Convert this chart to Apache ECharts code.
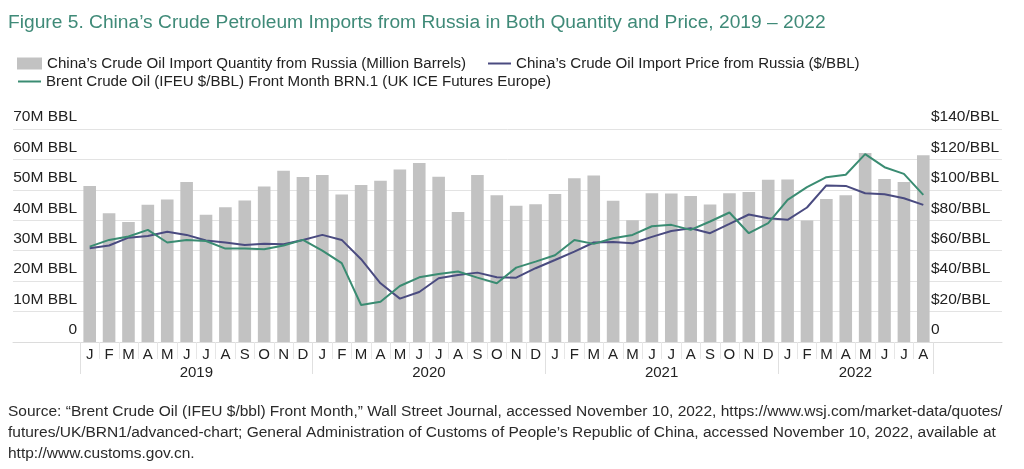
<!DOCTYPE html>
<html>
<head>
<meta charset="utf-8">
<script src="https://cdn.jsdelivr.net/npm/echarts@6/dist/echarts.min.js"></script>
<style>
  html, body { margin: 0; padding: 0; background: #fff; }
  #chart { width: 1024px; height: 469px; }
</style>
</head>
<body>
<div id="chart"></div>
<script>
// months Jan 2019 - Aug 2022
var months = ['J','F','M','A','M','J','J','A','S','O','N','D',
              'J','F','M','A','M','J','J','A','S','O','N','D',
              'J','F','M','A','M','J','J','A','S','O','N','D',
              'J','F','M','A','M','J','J','A'];
var yearLabels = ['2019', '2020', '2021', '2022'];
var yearStarts = [0, 12, 24, 36, 44];   // month index where each year begins (plus end)

// million barrels
var importQuantity = [51.3, 42.3, 39.4, 45.1, 46.8, 52.6, 41.8, 44.3, 46.5, 51.1, 56.3, 54.2,
                      54.9, 48.5, 51.6, 53.0, 56.7, 58.8, 54.3, 42.7, 54.9, 48.2, 44.8, 45.3,
                      48.6, 53.8, 54.7, 46.4, 40.0, 48.9, 48.8, 48.0, 45.2, 48.9, 49.3, 53.3,
                      53.4, 39.9, 47.0, 48.2, 62.1, 53.6, 52.6, 61.4];
// $/BBL
var importPrice = [61.6, 63.4, 68.6, 69.7, 72.4, 70.4, 66.7, 65.4, 63.8, 64.5, 64.2, 67.1,
                   70.4, 67.1, 54.4, 38.6, 28.5, 32.9, 41.9, 44.1, 45.6, 42.5, 42.3, 48.5,
                   53.9, 59.4, 65.4, 65.8, 64.9, 69.1, 73.0, 74.8, 71.5, 77.6, 83.8, 81.4,
                   80.3, 88.4, 102.9, 102.6, 97.8, 97.1, 94.5, 90.1];
var brentPrice = [62.7, 67.1, 69.3, 73.7, 65.4, 67.1, 66.4, 61.4, 61.4, 61.0, 63.4, 67.1,
                  60.1, 51.8, 24.3, 26.5, 36.8, 42.5, 44.7, 46.3, 42.3, 38.6, 48.9, 52.8,
                  57.0, 67.1, 64.5, 68.2, 70.4, 76.1, 77.0, 73.7, 79.2, 85.1, 71.5, 78.1,
                  93.4, 101.8, 108.3, 109.9, 123.5, 114.9, 110.5, 96.7];

var nameQty = 'China\u2019s Crude Oil Import Quantity from Russia (Million Barrels)';
var namePrice = 'China\u2019s Crude Oil Import Price from Russia ($/BBL)';
var nameBrent = 'Brent Crude Oil (IFEU $/BBL) Front Month BRN.1 (UK ICE Futures Europe)';

var sourceText = 'Source: \u201cBrent Crude Oil (IFEU $/bbl) Front Month,\u201d Wall Street Journal, accessed November 10, 2022, https://www.wsj.com/market-data/quotes/\n' +
  'futures/UK/BRN1/advanced-chart; General Administration of Customs of People\u2019s Republic of China, accessed November 10, 2022, available at\n' +
  'http://www.customs.gov.cn.';

// year axis sits on month boundaries: label in middle of each year
var yearAxis = [];
for (var i = 0; i <= months.length; i++) yearAxis.push('');
for (var k = 0; k < yearLabels.length; k++) {
  yearAxis[(yearStarts[k] + yearStarts[k + 1]) / 2] = yearLabels[k];
}

var FONT = 'Liberation Sans';
var LEG = { fontSize: 15.1, color: '#222' };
var chart = echarts.init(document.getElementById('chart'));

chart.setOption({
  animation: false,
  textStyle: { fontFamily: FONT },
  title: [{
    text: 'Figure 5. China\u2019s Crude Petroleum Imports from Russia in Both Quantity and Price, 2019 \u2013 2022',
    left: 3, top: 8,
    textStyle: { fontSize: 19.2, fontWeight: 'normal', color: '#3f8a78', fontFamily: FONT }
  }, {
    text: sourceText,
    left: 3, top: 396,
    textStyle: { fontSize: 15.5, fontWeight: 'normal', color: '#2a2a2a', lineHeight: 21, fontFamily: FONT }
  }],
  legend: [{
    left: 12, top: 51, itemWidth: 25, itemHeight: 12,
    data: [{ name: nameQty, icon: 'rect' }],
    textStyle: LEG
  }, {
    left: 483, top: 51, itemWidth: 23, itemHeight: 2,
    data: [{ name: namePrice, icon: 'rect' }],
    textStyle: LEG
  }, {
    left: 13, top: 69, itemWidth: 23, itemHeight: 2,
    data: [{ name: nameBrent, icon: 'rect' }],
    textStyle: LEG
  }],
  grid: [
    { left: 13, right: 22, top: 129, bottom: 127 },  // background gridlines
    { left: 80, right: 91, top: 129, bottom: 127 }   // data
  ],
  xAxis: [{
    gridIndex: 0, type: 'value', min: 0, max: 1, position: 'bottom',
    axisLine: { show: true, lineStyle: { color: '#dcdcdc' } },
    axisTick: { show: false }, axisLabel: { show: false }, splitLine: { show: false }
  }, {
    gridIndex: 1, type: 'category', data: months, position: 'bottom',
    axisLine: { show: false },
    axisTick: { show: true, length: 17, lineStyle: { color: '#e6e6e6' } },
    axisLabel: { interval: 0, margin: 5, fontSize: 15, color: '#222' }
  }, {
    gridIndex: 1, type: 'category', data: yearAxis, boundaryGap: false, position: 'bottom',
    axisLine: { show: false },
    axisTick: {
      show: true, length: 32, lineStyle: { color: '#e0e0e0' },
      interval: function (idx) { return yearStarts.indexOf(idx) >= 0; }
    },
    axisLabel: {
      margin: 23, fontSize: 15, color: '#222',
      interval: function (idx, val) { return val !== ''; }
    }
  }],
  yAxis: [{
    gridIndex: 0, type: 'value', min: 0, max: 70, interval: 10,
    axisLine: { show: false }, axisTick: { show: false },
    splitLine: { lineStyle: { color: '#e3e3e3' } },
    axisLabel: {
      inside: true, margin: 64, align: 'right', verticalAlign: 'bottom',
      padding: [0, 0, 4, 0], fontSize: 15.5, color: '#222',
      formatter: function (v) { return v === 0 ? '0' : v + 'M BBL'; }
    }
  }, {
    gridIndex: 0, type: 'value', position: 'right', min: 0, max: 140, interval: 20,
    axisLine: { show: false }, axisTick: { show: false }, splitLine: { show: false },
    axisLabel: {
      inside: true, margin: 71, align: 'left', verticalAlign: 'bottom',
      padding: [0, 0, 4, 0], fontSize: 15.5, color: '#222',
      formatter: function (v) { return v === 0 ? '0' : '$' + v + '/BBL'; }
    }
  }, {
    gridIndex: 1, type: 'value', min: 0, max: 70, show: false
  }, {
    gridIndex: 1, type: 'value', min: 0, max: 140, show: false
  }],
  series: [{
    name: nameQty, type: 'bar', xAxisIndex: 1, yAxisIndex: 2,
    data: importQuantity, barCategoryGap: '35%',
    itemStyle: { color: '#c2c2c2' }
  }, {
    name: namePrice, type: 'line', xAxisIndex: 1, yAxisIndex: 3,
    data: importPrice, symbol: 'none',
    itemStyle: { color: '#4a4b80' },
    lineStyle: { color: '#4a4b80', width: 2 }
  }, {
    name: nameBrent, type: 'line', xAxisIndex: 1, yAxisIndex: 3,
    data: brentPrice, symbol: 'none',
    itemStyle: { color: '#3a8c72' },
    lineStyle: { color: '#3a8c72', width: 2 }
  }]
});
</script>
</body>
</html>
